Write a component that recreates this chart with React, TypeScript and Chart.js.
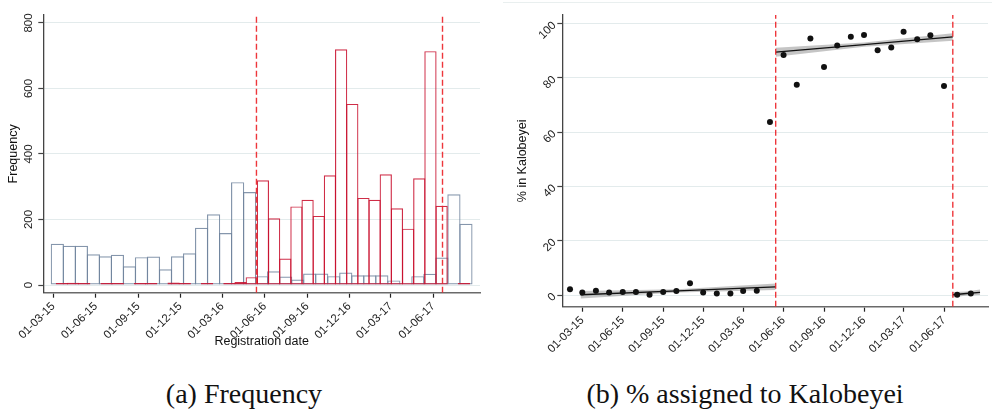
import { useEffect, useRef } from "react"
import { Chart, registerables } from "chart.js"

Chart.register(...registerables)

// quarterly tick labels (dd-mm-yy), shared by both panels
const dateTicks = ["01-03-15", "01-06-15", "01-09-15", "01-12-15", "01-03-16", "01-06-16", "01-09-16", "01-12-16", "01-03-17", "01-06-17"]
const freqTicks = [0, 200, 400, 600, 800]
const shareTicks = [0, 20, 40, 60, 80, 100]

// histogram bins, in days since 01-03-15
const kakumaBinStart = -4.3
const kakumaBinWidth = 26.03
const kakumaFreq = [126, 120, 120, 94, 88, 92, 57, 85, 87, 48, 88, 97, 175, 216, 159, 314, 284, 27, 42, 26, 17, 35, 35, 27, 38, 30, 30, 30, 14, 5, 27, 34, 84, 277, 187]
const kalobeyeiBinStart = 6.5
const kalobeyeiBinWidth = 24.19
const kalobeyeiFreq = [6, 7, 6, 0, 6, 6, 0, 6, 6, 0, 8, 6, 0, 6, 0, 6, 9, 24, 320, 204, 81, 240, 260, 211, 335, 720, 553, 266, 260, 338, 234, 172, 326, 714, 242, 0, 6]

const cutoffDates = ["2016-05-14", "2017-06-21"]

// monthly share assigned to Kalobeyei (%)
const shareMonths = ["2015-02", "2015-03", "2015-04", "2015-05", "2015-06", "2015-07", "2015-08", "2015-09", "2015-10", "2015-11", "2015-12", "2016-01", "2016-02", "2016-03", "2016-04", "2016-05", "2016-06", "2016-07", "2016-08", "2016-09", "2016-10", "2016-11", "2016-12", "2017-01", "2017-02", "2017-03", "2017-04", "2017-05", "2017-06", "2017-07", "2017-08"]
const shareKalobeyei = [2.1, 0.9, 1.6, 0.9, 1.1, 1.1, 0.1, 1.1, 1.5, 4.3, 0.9, 0.6, 0.6, 1.5, 1.6, 63.8, 88.5, 77.5, 94.5, 84, 92, 95.2, 95.8, 90.2, 91.2, 97, 94.3, 95.7, 77, 0.1, 0.6]

// fitted lines with confidence half-widths
const fitPreDates = ["2015-02-25", "2015-10-04", "2016-05-14"]
const fitPre = [0.1, 1.55, 3.0]
const fitPreBand = [1.4, 0.6, 1.2]
const fitMidDates = ["2016-05-14", "2016-12-01", "2017-06-21"]
const fitMid = [89.5, 92.3, 95.1]
const fitMidBand = [1.65, 0.8, 1.35]
const fitPostDates = ["2017-06-21", "2017-07-22", "2017-08-22"]
const fitPost = [0.1, 0.55, 1.0]
const fitPostBand = [1.0, 0.7, 1.0]

const origin = Date.UTC(2015, 2, 1)
const isoDay = (s: string) => {
  const [y, m, d] = s.split("-").map(Number)
  return (Date.UTC(y, m - 1, d || 1) - origin) / 86400000
}
const tickDay = (s: string) => {
  const [d, m, y] = s.split("-").map(Number)
  return (Date.UTC(2000 + y, m - 1, d) - origin) / 86400000
}

const sans = "'Liberation Sans', Arial, sans-serif"
const axisColor = "#444"
const gridColor = "#e3ebec"
const cutRed = "rgba(236,32,38,0.9)"

function dateAxis(min: number, max: number, height: number, title?: string) {
  return {
    type: "linear" as const,
    min,
    max,
    offset: false,
    afterBuildTicks: (s: any) => {
      s.ticks = dateTicks.map((t) => ({ value: tickDay(t) }))
    },
    afterFit: (s: any) => {
      s.height = height
    },
    border: { color: "#6a6a6a", width: 1.6 },
    grid: { drawOnChartArea: false, offset: false, tickColor: "#222", tickLength: 5, tickWidth: 1.2 },
    ticks: {
      minRotation: 45,
      maxRotation: 45,
      autoSkip: false,
      padding: 2,
      color: "#222",
      font: { family: sans, size: 11.5 },
      callback: (_v: any, i: number) => dateTicks[i],
    },
    title: {
      display: !!title,
      text: title ?? "",
      color: "#111",
      font: { family: sans, size: 12.5 },
      padding: { top: 0, bottom: 10.5 },
    },
  }
}

function cutoffLines(yMin: number, yMax: number) {
  return cutoffDates.map((d) => ({
    type: "line" as const,
    data: [
      { x: isoDay(d), y: yMin },
      { x: isoDay(d), y: yMax },
    ],
    borderColor: cutRed,
    borderWidth: 1.4,
    borderDash: [6, 3],
    pointRadius: 0,
    order: 0,
  }))
}

function FrequencyChart() {
  const chartRef = useRef<HTMLCanvasElement>(null)
  const chartInstance = useRef<Chart | null>(null)

  useEffect(() => {
    if (!chartRef.current) return
    if (chartInstance.current) chartInstance.current.destroy()

    const yMin = -23.5
    const yMax = 824.4
    const histBar = {
      type: "bar" as const,
      backgroundColor: "rgba(0,0,0,0)",
      borderWidth: 1.2,
      borderSkipped: false,
      barThickness: "flex" as const,
      barPercentage: 1.1,
      categoryPercentage: 1,
      inflateAmount: 0,
      stack: "hist",
    }

    chartInstance.current = new Chart(chartRef.current, {
      type: "bar",
      data: {
        datasets: [
          ...cutoffLines(yMin, yMax),
          {
            ...histBar,
            label: "Kalobeyei",
            data: kalobeyeiFreq.map((v, i) => ({ x: kalobeyeiBinStart + (i + 0.5) * kalobeyeiBinWidth, y: v })),
            borderColor: "rgba(200,16,46,0.88)",
            order: 1,
          },
          {
            ...histBar,
            label: "Kakuma",
            data: kakumaFreq.map((v, i) => ({ x: kakumaBinStart + (i + 0.5) * kakumaBinWidth, y: v })),
            borderColor: "rgba(112,132,158,0.85)",
            order: 2,
          },
        ] as any,
      },
      options: {
        animation: false,
        responsive: true,
        maintainAspectRatio: false,
        layout: { padding: { top: 15, right: 16, bottom: 0, left: 0 } },
        plugins: { legend: { display: false }, tooltip: { enabled: false } },
        scales: {
          x: dateAxis(-21.7, 924.2, 67.3, "Registration date"),
          y: {
            type: "linear",
            min: yMin,
            max: yMax,
            stacked: false,
            afterBuildTicks: (s: any) => {
              s.ticks = freqTicks.map((value) => ({ value }))
            },
            afterFit: (s: any) => {
              s.width = 43.3
            },
            border: { color: axisColor, width: 1.3 },
            grid: { color: gridColor, tickColor: axisColor, tickLength: 5, tickWidth: 1.2 },
            ticks: {
              minRotation: 90,
              maxRotation: 90,
              crossAlign: "center",
              padding: 0,
              color: "#222",
              font: { family: sans, size: 11.5 },
            },
            title: {
              display: true,
              text: "Frequency",
              color: "#111",
              font: { family: sans, size: 12.5 },
              padding: { top: 6, bottom: 0 },
            },
          },
        },
      } as any,
    })

    return () => {
      if (chartInstance.current) {
        chartInstance.current.destroy()
        chartInstance.current = null
      }
    }
  }, [])

  return (
    <div style={{ position: "absolute", left: 0, top: 0, width: 496, height: 360 }}>
      <canvas ref={chartRef} />
    </div>
  )
}

function ShareChart() {
  const chartRef = useRef<HTMLCanvasElement>(null)
  const chartInstance = useRef<Chart | null>(null)

  useEffect(() => {
    if (!chartRef.current) return
    if (chartInstance.current) chartInstance.current.destroy()

    const yMin = -4.31
    const yMax = 103.2
    const fitLine = (dates: string[], ys: number[]) => ({
      type: "line" as const,
      data: dates.map((d, i) => ({ x: isoDay(d), y: ys[i] })),
      borderColor: "#111",
      borderWidth: 1.3,
      pointRadius: 0,
      fill: false,
      order: 2,
    })
    const band = (dates: string[], ys: number[], half: number[]) => [
      {
        type: "line" as const,
        data: dates.map((d, i) => ({ x: isoDay(d), y: ys[i] + half[i] })),
        borderWidth: 0,
        pointRadius: 0,
        fill: false,
        order: 3,
      },
      {
        type: "line" as const,
        data: dates.map((d, i) => ({ x: isoDay(d), y: ys[i] - half[i] })),
        borderWidth: 0,
        pointRadius: 0,
        fill: "-1",
        backgroundColor: "rgba(150,150,150,0.55)",
        order: 3,
      },
    ]

    chartInstance.current = new Chart(chartRef.current, {
      type: "scatter",
      data: {
        datasets: [
          ...cutoffLines(yMin, yMax),
          {
            type: "scatter",
            label: "% in Kalobeyei",
            data: shareMonths.map((m, i) => ({ x: isoDay(m), y: shareKalobeyei[i] })),
            backgroundColor: "#111",
            borderWidth: 0,
            pointRadius: 3,
            order: 1,
          },
          fitLine(fitPreDates, fitPre),
          fitLine(fitMidDates, fitMid),
          fitLine(fitPostDates, fitPost),
          ...band(fitPreDates, fitPre, fitPreBand),
          ...band(fitMidDates, fitMid, fitMidBand),
          ...band(fitPostDates, fitPost, fitPostBand),
        ] as any,
      },
      options: {
        animation: false,
        responsive: true,
        maintainAspectRatio: false,
        layout: { padding: { top: 15, right: 4, bottom: 0, left: 0 } },
        plugins: { legend: { display: false }, tooltip: { enabled: false } },
        scales: {
          x: dateAxis(-45.5, 923.1, 53.3),
          y: {
            type: "linear",
            min: yMin,
            max: yMax,
            afterBuildTicks: (s: any) => {
              s.ticks = shareTicks.map((value) => ({ value }))
            },
            afterFit: (s: any) => {
              s.width = 66.3
            },
            border: { color: axisColor, width: 1.3 },
            grid: { color: gridColor, tickColor: axisColor, tickLength: 5, tickWidth: 1.2 },
            ticks: {
              minRotation: 45,
              maxRotation: 45,
              crossAlign: "near",
              padding: 3,
              color: "#222",
              font: { family: sans, size: 11.5 },
            },
            title: {
              display: true,
              text: "% in Kalobeyei",
              color: "#111",
              font: { family: sans, size: 12.5 },
              padding: { top: 19, bottom: 0 },
            },
          },
        },
      } as any,
    })

    return () => {
      if (chartInstance.current) {
        chartInstance.current.destroy()
        chartInstance.current = null
      }
    }
  }, [])

  return (
    <div style={{ position: "absolute", left: 496, top: 0, width: 496, height: 360 }}>
      <canvas ref={chartRef} />
    </div>
  )
}

const captionStyle = {
  position: "absolute" as const,
  top: 380,
  width: 496,
  textAlign: "center" as const,
  fontFamily: "'Liberation Serif', 'Times New Roman', serif",
  fontSize: 28,
  lineHeight: "28px",
  color: "#111",
  whiteSpace: "nowrap" as const,
}

export default function App() {
  return (
    <div style={{ position: "absolute", left: 0, top: 0, width: 992, height: 414, background: "#fff", overflow: "hidden" }}>
      <div style={{ position: "absolute", left: 503, top: 2, width: 489, height: 1, background: "#e9efef" }} />
      <FrequencyChart />
      <ShareChart />
      <div style={{ ...captionStyle, left: -4 }}>(a) Frequency</div>
      <div style={{ ...captionStyle, left: 497 }}>(b) % assigned to Kalobeyei</div>
    </div>
  )
}
